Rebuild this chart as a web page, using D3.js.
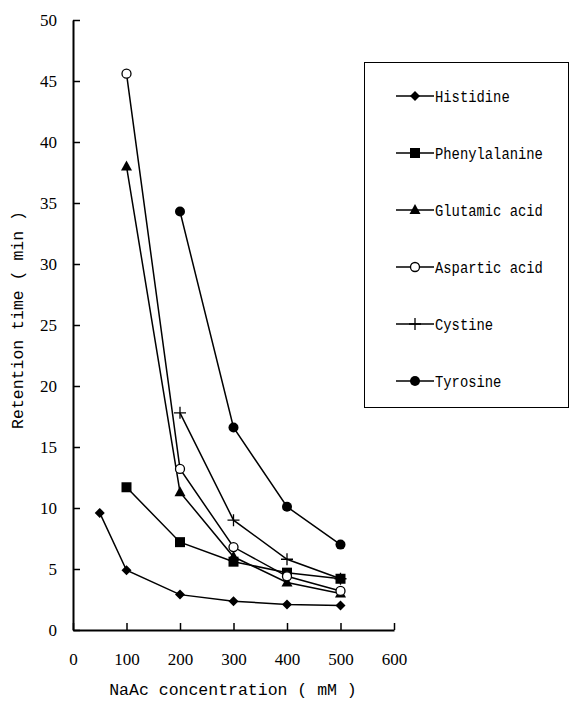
<!DOCTYPE html>
<html>
<head>
<meta charset="utf-8">
<script src="https://cdn.jsdelivr.net/npm/d3@7"></script>
<style>
  body { margin: 0; background: #fff; }
  svg { display: block; }
</style>
</head>
<body>
<div id="wrapper"></div>
<script>
// NaAc concentration (mM) for each series, and retention times (min)
const histidineX = [50, 100, 200, 300, 400, 500]
const histidine = [9.6, 4.9, 2.9, 2.35, 2.1, 2.0]
const phenylalanineX = [100, 200, 300, 400, 500]
const phenylalanine = [11.7, 7.2, 5.6, 4.7, 4.2]
const glutamicX = [100, 200, 300, 400, 500]
const glutamic = [38.0, 11.3, 6.0, 3.9, 3.0]
const asparticX = [100, 200, 300, 400, 500]
const aspartic = [45.6, 13.2, 6.8, 4.4, 3.2]
const cystineX = [200, 300, 400, 500]
const cystine = [17.8, 9.0, 5.8, 4.2]
const tyrosineX = [200, 300, 400, 500]
const tyrosine = [34.3, 16.6, 10.1, 7.0]

const seriesNames = ["Histidine", "Phenylalanine", "Glutamic acid", "Aspartic acid", "Cystine", "Tyrosine"]
const markerTypes = ["diamond", "square", "triangle", "circleOpen", "plus", "circle"]
const xTicks = [0, 100, 200, 300, 400, 500, 600]
const yTicks = [0, 5, 10, 15, 20, 25, 30, 35, 40, 45, 50]

const series = [
  [histidineX, histidine],
  [phenylalanineX, phenylalanine],
  [glutamicX, glutamic],
  [asparticX, aspartic],
  [cystineX, cystine],
  [tyrosineX, tyrosine],
].map(([xs, ys], i) => ({
  name: seriesNames[i],
  marker: markerTypes[i],
  points: xs.map((x, j) => ({ x: x, y: ys[j] })),
}))

const dimensions = {
  width: 572,
  height: 701,
  margin: { top: 20, right: 178, bottom: 71, left: 73 },
}
dimensions.boundedWidth = dimensions.width - dimensions.margin.left - dimensions.margin.right
dimensions.boundedHeight = dimensions.height - dimensions.margin.top - dimensions.margin.bottom

const monoFont = "'Liberation Mono', 'DejaVu Sans Mono', monospace"
const serifFont = "'Liberation Serif', 'DejaVu Serif', serif"

const svg = d3.select("#wrapper")
  .append("svg")
    .attr("width", dimensions.width)
    .attr("height", dimensions.height)

const bounds = svg.append("g")
  .attr("transform", `translate(${dimensions.margin.left},${dimensions.margin.top})`)

const xScale = d3.scaleLinear()
  .domain([0, 600])
  .range([0, dimensions.boundedWidth])

const yScale = d3.scaleLinear()
  .domain([0, 50])
  .range([dimensions.boundedHeight, 0])

// Marker drawing helper
function drawMarker(g, type, cx, cy) {
  if (type === "diamond") {
    g.append("path")
      .attr("d", `M${cx},${cy - 5}L${cx + 5},${cy}L${cx},${cy + 5}L${cx - 5},${cy}Z`)
      .attr("fill", "#000")
  } else if (type === "square") {
    g.append("rect")
      .attr("x", cx - 5).attr("y", cy - 5)
      .attr("width", 10).attr("height", 10)
      .attr("fill", "#000")
  } else if (type === "triangle") {
    g.append("path")
      .attr("d", `M${cx},${cy - 6}L${cx + 5.5},${cy + 4}L${cx - 5.5},${cy + 4}Z`)
      .attr("fill", "#000")
  } else if (type === "circleOpen") {
    g.append("circle")
      .attr("cx", cx).attr("cy", cy).attr("r", 4.5)
      .attr("fill", "#fff").attr("stroke", "#000").attr("stroke-width", 1.3)
  } else if (type === "plus") {
    g.append("path")
      .attr("d", `M${cx - 6},${cy}H${cx + 6}M${cx},${cy - 6}V${cy + 6}`)
      .attr("stroke", "#000").attr("stroke-width", 1.3)
  } else if (type === "circle") {
    g.append("circle")
      .attr("cx", cx).attr("cy", cy).attr("r", 5)
      .attr("fill", "#000")
  }
}

// Axes
const yAxisGenerator = d3.axisLeft(yScale)
  .tickValues(yTicks)
  .tickSizeInner(-7)
  .tickSizeOuter(0)
  .tickPadding(16)

const yAxis = bounds.append("g")
  .call(yAxisGenerator)
yAxis.select(".domain").attr("stroke-width", 2)
yAxis.selectAll(".tick line").attr("stroke-width", 1.5)
yAxis.selectAll("text")
  .attr("font-family", serifFont)
  .attr("font-size", 17)
  .attr("fill", "#000")

const xAxisGenerator = d3.axisBottom(xScale)
  .tickValues(xTicks)
  .tickSizeInner(-7)
  .tickSizeOuter(0)
  .tickPadding(23)

const xAxis = bounds.append("g")
  .attr("transform", `translate(0,${dimensions.boundedHeight})`)
  .call(xAxisGenerator)
xAxis.select(".domain").attr("stroke-width", 2)
xAxis.selectAll(".tick line").attr("stroke-width", 1.5)
xAxis.selectAll("text")
  .attr("font-family", serifFont)
  .attr("font-size", 17)
  .attr("fill", "#000")

// Axis titles
svg.append("text")
  .attr("x", 233)
  .attr("y", 695)
  .attr("text-anchor", "middle")
  .attr("font-family", monoFont)
  .attr("font-size", 16.5)
  .text("NaAc concentration ( mM )")

svg.append("text")
  .attr("transform", "translate(23,320) rotate(-90)")
  .attr("text-anchor", "middle")
  .attr("font-family", monoFont)
  .attr("font-size", 16.5)
  .text("Retention time ( min )")

// Lines and markers
const lineGenerator = d3.line()
  .x(d => xScale(d.x))
  .y(d => yScale(d.y))

series.forEach(s => {
  bounds.append("path")
    .attr("d", lineGenerator(s.points))
    .attr("fill", "none")
    .attr("stroke", "#000")
    .attr("stroke-width", 1.5)
})
series.forEach(s => {
  const g = bounds.append("g")
  s.points.forEach(p => drawMarker(g, s.marker, xScale(p.x), yScale(p.y)))
})

// Legend
const legend = svg.append("g")
legend.append("rect")
  .attr("x", 364.5).attr("y", 62.5)
  .attr("width", 204).attr("height", 345)
  .attr("fill", "none")
  .attr("stroke", "#000")
  .attr("stroke-width", 1)

series.forEach((s, i) => {
  const y = 96 + i * 57
  const g = legend.append("g")
  g.append("line")
    .attr("x1", 396).attr("x2", 434)
    .attr("y1", y).attr("y2", y)
    .attr("stroke", "#000").attr("stroke-width", 1.5)
  drawMarker(g, s.marker, 415, y)
  g.append("text")
    .attr("x", 435)
    .attr("y", y + 6)
    .attr("font-family", monoFont)
    .attr("font-size", 16)
    .attr("textLength", s.name.length * 8.3)
    .attr("lengthAdjust", "spacingAndGlyphs")
    .text(s.name)
})
</script>
</body>
</html>
